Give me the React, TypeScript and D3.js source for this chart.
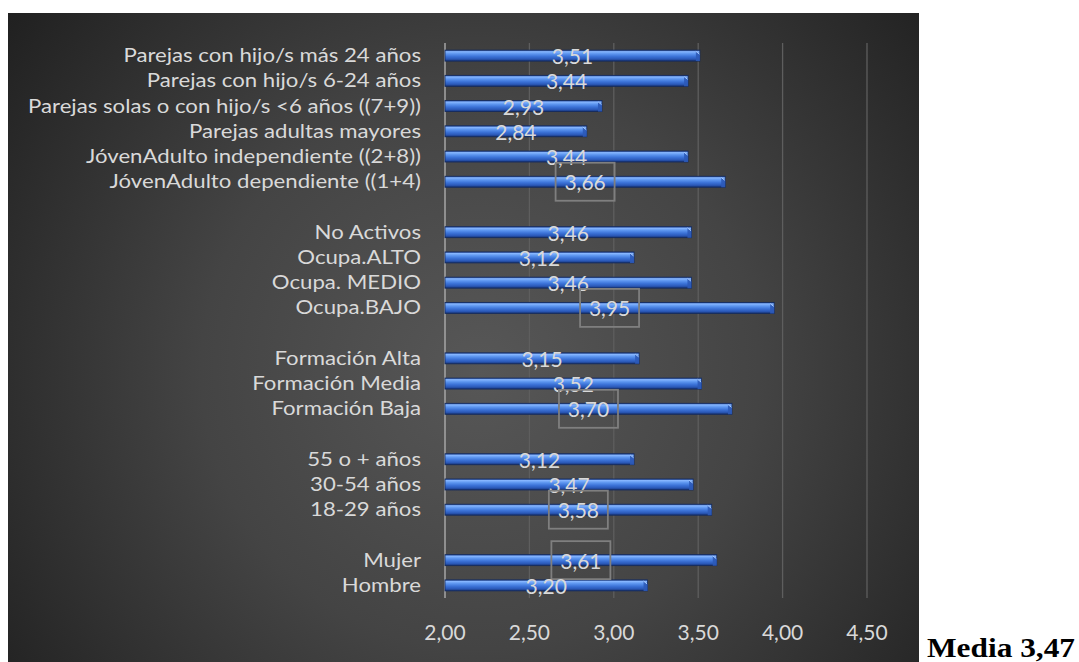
import React from "react";
import * as d3 from "d3";

// Row labels from top to bottom; empty strings are spacer rows between groups.
const categories: string[] = [
  "Parejas con hijo/s más 24 años",
  "Parejas con hijo/s 6-24 años",
  "Parejas solas o con hijo/s <6 años ((7+9))",
  "Parejas adultas mayores",
  "JóvenAdulto independiente ((2+8))",
  "JóvenAdulto dependiente ((1+4)",
  "",
  "No Activos",
  "Ocupa.ALTO",
  "Ocupa. MEDIO",
  "Ocupa.BAJO",
  "",
  "Formación Alta",
  "Formación Media",
  "Formación Baja",
  "",
  "55 o + años",
  "30-54 años",
  "18-29 años",
  "",
  "Mujer",
  "Hombre",
];

const values: (number | null)[] = [
  3.51, 3.44, 2.93, 2.84, 3.44, 3.66,
  null,
  3.46, 3.12, 3.46, 3.95,
  null,
  3.15, 3.52, 3.7,
  null,
  3.12, 3.47, 3.58,
  null,
  3.61, 3.2,
];

// Rows whose value label is framed (highest value of each group)
const framed: string[] = [
  "JóvenAdulto dependiente ((1+4)",
  "Ocupa.BAJO",
  "Formación Baja",
  "18-29 años",
  "Mujer",
];

const xTicks: number[] = [2, 2.5, 3, 3.5, 4, 4.5];
const xDomain: [number, number] = [2, 4.5];
const meanLabel = "Media 3,47";

const W = 1079;
const H = 662;
const plot = { left: 445, right: 867, top: 43, bottom: 598 };
const FONT = "Lato, 'Noto Sans', sans-serif";
const TEXT = "#d9d9d9";

const fmt = (v: number) => d3.format(".2f")(v).replace(".", ",");

export default function App() {
  const x = d3.scaleLinear().domain(xDomain).range([plot.left, plot.right]);
  const y = d3
    .scaleBand<number>()
    .domain(d3.range(categories.length))
    .range([plot.top, plot.bottom])
    .padding(0);
  const barH = 11;
  const mid = (i: number) => (y(i) as number) + y.bandwidth() / 2;

  return (
    <svg
      width={W}
      height={H}
      style={{ position: "absolute", left: 0, top: 0, display: "block" }}
    >
      <defs>
        <radialGradient
          id="bg"
          gradientUnits="userSpaceOnUse"
          cx={480}
          cy={370}
          r={620}
        >
          <stop offset="0" stopColor="#575757" />
          <stop offset="0.45" stopColor="#444444" />
          <stop offset="1" stopColor="#1d1d1d" />
        </radialGradient>
        <linearGradient id="bar" x1="0" y1="0" x2="0" y2="1">
          <stop offset="0" stopColor="#25499a" />
          <stop offset="0.14" stopColor="#86b6ff" />
          <stop offset="0.34" stopColor="#5c95ef" />
          <stop offset="0.58" stopColor="#3c73d8" />
          <stop offset="0.82" stopColor="#2a58b7" />
          <stop offset="1" stopColor="#15306e" />
        </linearGradient>
      </defs>

      <rect x={8} y={13} width={911} height={649} fill="url(#bg)" />

      {/* vertical gridlines */}
      {xTicks.slice(1).map((t) => (
        <line
          key={"g" + t}
          x1={x(t)}
          x2={x(t)}
          y1={plot.top}
          y2={plot.bottom}
          stroke="#5e5e5e"
          strokeWidth={1.3}
        />
      ))}

      {/* category axis line */}
      <line
        x1={x(xDomain[0])}
        x2={x(xDomain[0])}
        y1={plot.top}
        y2={plot.bottom}
        stroke="#a6a6a6"
        strokeWidth={1.5}
      />

      {/* bars */}
      {values.map((v, i) => {
        if (v == null) return null;
        const cy = mid(i);
        const x0 = x(xDomain[0]);
        const x1 = x(v);
        const top = cy - barH / 2;
        return (
          <g key={"b" + i}>
            <rect
              x={x0}
              y={top}
              width={x1 - x0}
              height={barH}
              fill="url(#bar)"
              stroke="#132a5e"
              strokeWidth={0.8}
            />
            <polygon
              points={`${x1 - 4},${top + 1} ${x1},${top + 4} ${x1},${top + barH} ${x1 - 4},${top + barH}`}
              fill="#2c5ab8"
              opacity={0.9}
            />
            <line
              x1={x1 - 4}
              y1={top + 1.2}
              x2={x1 - 0.5}
              y2={top + 4}
              stroke="#a9ccff"
              strokeWidth={1}
            />
          </g>
        );
      })}

      {/* category labels (slightly widened type) */}
      {categories.map((c, i) =>
        c ? (
          <text
            key={"c" + i}
            transform={`translate(421,${mid(i) + 6.5}) scale(1.11,1)`}
            textAnchor="end"
            fontFamily={FONT}
            fontSize={20}
            fill={TEXT}
          >
            {c}
          </text>
        ) : null
      )}

      {/* value labels, centred on each bar */}
      {values.map((v, i) => {
        if (v == null) return null;
        const cy = mid(i);
        const cx = (x(xDomain[0]) + x(v)) / 2;
        const boxed = framed.includes(categories[i]);
        return (
          <g key={"v" + i}>
            {boxed && (
              <rect
                x={cx - 29.5}
                y={cy - 19}
                width={59}
                height={38}
                fill="none"
                stroke="#7f7f7f"
                strokeWidth={1.8}
              />
            )}
            <text
              x={cx}
              y={cy + 8.5}
              textAnchor="middle"
              fontFamily={FONT}
              fontSize={21}
              fill={TEXT}
            >
              {fmt(v)}
            </text>
          </g>
        );
      })}

      {/* value axis tick labels */}
      {xTicks.map((t) => (
        <text
          key={"t" + t}
          x={x(t)}
          y={640}
          textAnchor="middle"
          fontFamily={FONT}
          fontSize={21}
          fill={TEXT}
        >
          {fmt(t)}
        </text>
      ))}

      <text
        x={927}
        y={657}
        fontFamily="'Liberation Serif', 'Times New Roman', serif"
        fontWeight="bold"
        fontSize={28}
        textLength={148}
        lengthAdjust="spacingAndGlyphs"
        fill="#000000"
      >
        {meanLabel}
      </text>
    </svg>
  );
}
